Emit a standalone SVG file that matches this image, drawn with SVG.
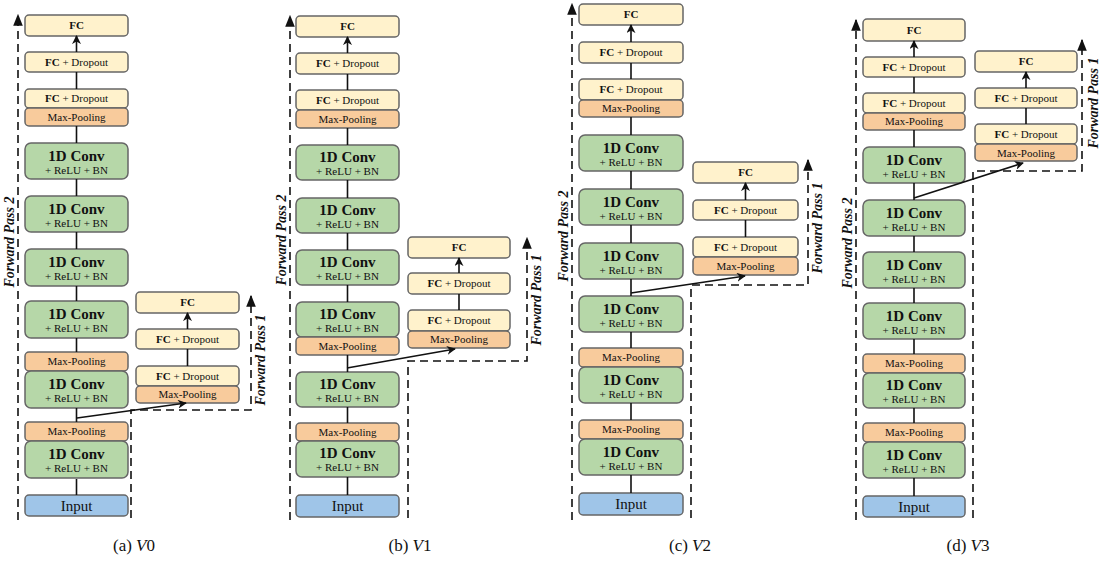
<svg xmlns="http://www.w3.org/2000/svg" width="1108" height="562" viewBox="0 0 1108 562">
<style>
rect{stroke:#666;stroke-width:1.5}
.fc{fill:#fff2cc}.mp{fill:#f8cb9c}.cv{fill:#b6d7a8}.in{fill:#9fc5e8}
text{font-family:"Liberation Serif",serif;fill:#111;text-anchor:middle}
.s{font-size:11px}.b{font-weight:bold}.t{font-size:15px;font-weight:bold}.i{font-size:15px}
.fp{font-size:14px;font-weight:bold;font-style:italic}
.cap{font-size:17px}
.ar{stroke:#111;stroke-width:1.6;fill:none;marker-end:url(#ah)}
.ds{stroke:#111;stroke-width:1.6;fill:none;stroke-dasharray:8 5;marker-end:url(#bh)}
</style>
<defs>
<marker id="ah" viewBox="0 0 10 10" refX="9" refY="5" markerWidth="9" markerHeight="9" markerUnits="userSpaceOnUse" orient="auto"><path d="M0,0 L10,5 L0,10 L3,5 z" fill="#111"/></marker>
<marker id="bh" viewBox="0 0 10 10" refX="9" refY="5" markerWidth="12" markerHeight="12" markerUnits="userSpaceOnUse" orient="auto"><path d="M0,1 L10,5 L0,9 z" fill="#111"/></marker>
</defs>

<!-- Panel a -->
<g id="a-fc"><rect class="fc" x="25" y="15" width="103" height="21" rx="4"/><text class="s b" x="76.5" y="29">FC</text></g>
<g id="a-fcd2"><rect class="fc" x="25" y="52" width="103" height="20" rx="4"/><text class="s" x="76.5" y="66"><tspan class="b">FC</tspan> + Dropout</text></g>
<g id="a-fcd1"><rect class="fc" x="25" y="89" width="103" height="19" rx="4"/><text class="s" x="76.5" y="102"><tspan class="b">FC</tspan> + Dropout</text></g>
<g id="a-mp3"><rect class="mp" x="25" y="108" width="103" height="18" rx="4"/><text class="s" x="76.5" y="121">Max-Pooling</text></g>
<g id="a-cv6"><rect class="cv" x="25" y="143" width="103" height="36" rx="6"/><text class="t" x="76.5" y="161">1D Conv</text><text class="s" x="76.5" y="174">+ ReLU + BN</text></g>
<g id="a-cv5"><rect class="cv" x="25" y="196" width="103" height="36" rx="6"/><text class="t" x="76.5" y="214">1D Conv</text><text class="s" x="76.5" y="227">+ ReLU + BN</text></g>
<g id="a-cv4"><rect class="cv" x="25" y="249" width="103" height="37" rx="6"/><text class="t" x="76.5" y="267">1D Conv</text><text class="s" x="76.5" y="280">+ ReLU + BN</text></g>
<g id="a-cv3"><rect class="cv" x="25" y="301" width="103" height="37" rx="6"/><text class="t" x="76.5" y="319">1D Conv</text><text class="s" x="76.5" y="332">+ ReLU + BN</text></g>
<g id="a-mp2"><rect class="mp" x="25" y="352" width="103" height="19" rx="4"/><text class="s" x="76.5" y="365">Max-Pooling</text></g>
<g id="a-cv2"><rect class="cv" x="25" y="371" width="103" height="37" rx="6"/><text class="t" x="76.5" y="389">1D Conv</text><text class="s" x="76.5" y="402">+ ReLU + BN</text></g>
<g id="a-mp1"><rect class="mp" x="25" y="422" width="103" height="19" rx="4"/><text class="s" x="76.5" y="435">Max-Pooling</text></g>
<g id="a-cv1"><rect class="cv" x="25" y="441" width="103" height="37" rx="6"/><text class="t" x="76.5" y="459">1D Conv</text><text class="s" x="76.5" y="472">+ ReLU + BN</text></g>
<g id="a-in"><rect class="in" x="25" y="495" width="103" height="21" rx="4"/><text class="i" x="76.5" y="511">Input</text></g>
<g id="a-sfc"><rect class="fc" x="136" y="292" width="103" height="21" rx="4"/><text class="s b" x="187.5" y="306">FC</text></g>
<g id="a-sfcd2"><rect class="fc" x="136" y="329" width="103" height="20" rx="4"/><text class="s" x="187.5" y="343"><tspan class="b">FC</tspan> + Dropout</text></g>
<g id="a-sfcd1"><rect class="fc" x="136" y="366" width="103" height="20" rx="4"/><text class="s" x="187.5" y="380"><tspan class="b">FC</tspan> + Dropout</text></g>
<g id="a-smp"><rect class="mp" x="136" y="386" width="103" height="17" rx="4"/><text class="s" x="187.5" y="398">Max-Pooling</text></g>

<!-- Panel b -->
<g id="b-fc"><rect class="fc" x="296" y="16" width="103" height="21" rx="4"/><text class="s b" x="347.5" y="30">FC</text></g>
<g id="b-fcd2"><rect class="fc" x="296" y="53" width="103" height="21" rx="4"/><text class="s" x="347.5" y="67"><tspan class="b">FC</tspan> + Dropout</text></g>
<g id="b-fcd1"><rect class="fc" x="296" y="90" width="103" height="20" rx="4"/><text class="s" x="347.5" y="104"><tspan class="b">FC</tspan> + Dropout</text></g>
<g id="b-mp3"><rect class="mp" x="296" y="110" width="103" height="18" rx="4"/><text class="s" x="347.5" y="123">Max-Pooling</text></g>
<g id="b-cv6"><rect class="cv" x="296" y="145" width="103" height="35" rx="6"/><text class="t" x="347.5" y="162">1D Conv</text><text class="s" x="347.5" y="175">+ ReLU + BN</text></g>
<g id="b-cv5"><rect class="cv" x="296" y="198" width="103" height="35" rx="6"/><text class="t" x="347.5" y="215">1D Conv</text><text class="s" x="347.5" y="228">+ ReLU + BN</text></g>
<g id="b-cv4"><rect class="cv" x="296" y="250" width="103" height="35" rx="6"/><text class="t" x="347.5" y="267">1D Conv</text><text class="s" x="347.5" y="280">+ ReLU + BN</text></g>
<g id="b-cv3"><rect class="cv" x="296" y="302" width="103" height="35" rx="6"/><text class="t" x="347.5" y="319">1D Conv</text><text class="s" x="347.5" y="332">+ ReLU + BN</text></g>
<g id="b-mp2"><rect class="mp" x="296" y="337" width="103" height="18" rx="4"/><text class="s" x="347.5" y="350">Max-Pooling</text></g>
<g id="b-cv2"><rect class="cv" x="296" y="372" width="103" height="35" rx="6"/><text class="t" x="347.5" y="389">1D Conv</text><text class="s" x="347.5" y="402">+ ReLU + BN</text></g>
<g id="b-mp1"><rect class="mp" x="296" y="423" width="103" height="18" rx="4"/><text class="s" x="347.5" y="436">Max-Pooling</text></g>
<g id="b-cv1"><rect class="cv" x="296" y="441" width="103" height="36" rx="6"/><text class="t" x="347.5" y="458">1D Conv</text><text class="s" x="347.5" y="471">+ ReLU + BN</text></g>
<g id="b-in"><rect class="in" x="296" y="495" width="103" height="22" rx="4"/><text class="i" x="347.5" y="511">Input</text></g>
<g id="b-sfc"><rect class="fc" x="408" y="237" width="102" height="21" rx="4"/><text class="s b" x="459" y="251">FC</text></g>
<g id="b-sfcd2"><rect class="fc" x="408" y="273" width="102" height="21" rx="4"/><text class="s" x="459" y="287"><tspan class="b">FC</tspan> + Dropout</text></g>
<g id="b-sfcd1"><rect class="fc" x="408" y="310" width="102" height="21" rx="4"/><text class="s" x="459" y="324"><tspan class="b">FC</tspan> + Dropout</text></g>
<g id="b-smp"><rect class="mp" x="408" y="331" width="102" height="17" rx="4"/><text class="s" x="459" y="343">Max-Pooling</text></g>

<!-- Panel c -->
<g id="c-fc"><rect class="fc" x="579" y="4" width="104" height="21" rx="4"/><text class="s b" x="631" y="18">FC</text></g>
<g id="c-fcd2"><rect class="fc" x="579" y="42" width="104" height="21" rx="4"/><text class="s" x="631" y="56"><tspan class="b">FC</tspan> + Dropout</text></g>
<g id="c-fcd1"><rect class="fc" x="579" y="79" width="104" height="21" rx="4"/><text class="s" x="631" y="93"><tspan class="b">FC</tspan> + Dropout</text></g>
<g id="c-mp3"><rect class="mp" x="579" y="100" width="104" height="17" rx="4"/><text class="s" x="631" y="112">Max-Pooling</text></g>
<g id="c-cv6"><rect class="cv" x="579" y="135" width="104" height="36" rx="6"/><text class="t" x="631" y="153">1D Conv</text><text class="s" x="631" y="166">+ ReLU + BN</text></g>
<g id="c-cv5"><rect class="cv" x="579" y="189" width="104" height="36" rx="6"/><text class="t" x="631" y="207">1D Conv</text><text class="s" x="631" y="220">+ ReLU + BN</text></g>
<g id="c-cv4"><rect class="cv" x="579" y="243" width="104" height="36" rx="6"/><text class="t" x="631" y="261">1D Conv</text><text class="s" x="631" y="274">+ ReLU + BN</text></g>
<g id="c-cv3"><rect class="cv" x="579" y="296" width="104" height="36" rx="6"/><text class="t" x="631" y="314">1D Conv</text><text class="s" x="631" y="327">+ ReLU + BN</text></g>
<g id="c-mp2"><rect class="mp" x="579" y="348" width="104" height="19" rx="4"/><text class="s" x="631" y="361">Max-Pooling</text></g>
<g id="c-cv2"><rect class="cv" x="579" y="367" width="104" height="36" rx="6"/><text class="t" x="631" y="385">1D Conv</text><text class="s" x="631" y="398">+ ReLU + BN</text></g>
<g id="c-mp1"><rect class="mp" x="579" y="420" width="104" height="19" rx="4"/><text class="s" x="631" y="433">Max-Pooling</text></g>
<g id="c-cv1"><rect class="cv" x="579" y="439" width="104" height="36" rx="6"/><text class="t" x="631" y="457">1D Conv</text><text class="s" x="631" y="470">+ ReLU + BN</text></g>
<g id="c-in"><rect class="in" x="579" y="493" width="104" height="22" rx="4"/><text class="i" x="631" y="509">Input</text></g>
<g id="c-sfc"><rect class="fc" x="693" y="162" width="105" height="21" rx="4"/><text class="s b" x="745.5" y="176">FC</text></g>
<g id="c-sfcd2"><rect class="fc" x="693" y="200" width="105" height="20" rx="4"/><text class="s" x="745.5" y="214"><tspan class="b">FC</tspan> + Dropout</text></g>
<g id="c-sfcd1"><rect class="fc" x="693" y="237" width="105" height="20" rx="4"/><text class="s" x="745.5" y="251"><tspan class="b">FC</tspan> + Dropout</text></g>
<g id="c-smp"><rect class="mp" x="693" y="257" width="105" height="18" rx="4"/><text class="s" x="745.5" y="270">Max-Pooling</text></g>

<!-- Panel d -->
<g id="d-fc"><rect class="fc" x="863" y="19" width="102" height="22" rx="4"/><text class="s b" x="914" y="34">FC</text></g>
<g id="d-fcd2"><rect class="fc" x="863" y="57" width="102" height="20" rx="4"/><text class="s" x="914" y="71"><tspan class="b">FC</tspan> + Dropout</text></g>
<g id="d-fcd1"><rect class="fc" x="863" y="93" width="102" height="20" rx="4"/><text class="s" x="914" y="107"><tspan class="b">FC</tspan> + Dropout</text></g>
<g id="d-mp3"><rect class="mp" x="863" y="113" width="102" height="17" rx="4"/><text class="s" x="914" y="125">Max-Pooling</text></g>
<g id="d-cv6"><rect class="cv" x="863" y="147" width="102" height="36" rx="6"/><text class="t" x="914" y="165">1D Conv</text><text class="s" x="914" y="178">+ ReLU + BN</text></g>
<g id="d-cv5"><rect class="cv" x="863" y="200" width="102" height="36" rx="6"/><text class="t" x="914" y="218">1D Conv</text><text class="s" x="914" y="231">+ ReLU + BN</text></g>
<g id="d-cv4"><rect class="cv" x="863" y="252" width="102" height="36" rx="6"/><text class="t" x="914" y="270">1D Conv</text><text class="s" x="914" y="283">+ ReLU + BN</text></g>
<g id="d-cv3"><rect class="cv" x="863" y="303" width="102" height="36" rx="6"/><text class="t" x="914" y="321">1D Conv</text><text class="s" x="914" y="334">+ ReLU + BN</text></g>
<g id="d-mp2"><rect class="mp" x="863" y="354" width="102" height="19" rx="4"/><text class="s" x="914" y="367">Max-Pooling</text></g>
<g id="d-cv2"><rect class="cv" x="863" y="373" width="102" height="35" rx="6"/><text class="t" x="914" y="390">1D Conv</text><text class="s" x="914" y="403">+ ReLU + BN</text></g>
<g id="d-mp1"><rect class="mp" x="863" y="423" width="102" height="19" rx="4"/><text class="s" x="914" y="436">Max-Pooling</text></g>
<g id="d-cv1"><rect class="cv" x="863" y="442" width="102" height="36" rx="6"/><text class="t" x="914" y="460">1D Conv</text><text class="s" x="914" y="473">+ ReLU + BN</text></g>
<g id="d-in"><rect class="in" x="863" y="496" width="102" height="21" rx="4"/><text class="i" x="914" y="512">Input</text></g>
<g id="d-sfc"><rect class="fc" x="975" y="51" width="102" height="21" rx="4"/><text class="s b" x="1026" y="65">FC</text></g>
<g id="d-sfcd2"><rect class="fc" x="975" y="88" width="102" height="20" rx="4"/><text class="s" x="1026" y="102"><tspan class="b">FC</tspan> + Dropout</text></g>
<g id="d-sfcd1"><rect class="fc" x="975" y="124" width="102" height="20" rx="4"/><text class="s" x="1026" y="138"><tspan class="b">FC</tspan> + Dropout</text></g>
<g id="d-smp"><rect class="mp" x="975" y="144" width="102" height="17" rx="4"/><text class="s" x="1026" y="157">Max-Pooling</text></g>

<g id="connectors">
<path class="ar" d="M76.5,495V479M76.5,422V408M76.5,352V338M76.5,301V286M76.5,249V232M76.5,196V179M76.5,143V126M76.5,89V72M76.5,52V36"/>
<path class="ar" d="M187.5,366V349M187.5,329V313"/>
<path class="ar" d="M77,418L186,403"/>
<path class="ds" d="M18,520V15"/>
<path class="ds" d="M131,518V410H251V296"/>

<path class="ar" d="M347.5,495V477M347.5,423V407M347.5,372V355M347.5,302V285M347.5,250V233M347.5,198V180M347.5,145V128M347.5,90V74M347.5,53V37"/>
<path class="ar" d="M459,310V294M459,273V258"/>
<path class="ar" d="M347,368L455,349"/>
<path class="ds" d="M290,520V16"/>
<path class="ds" d="M408,518V361H527V238"/>

<path class="ar" d="M631,493V475M631,420V403M631,348V332M631,296V279M631,243V225M631,189V171M631,135V117M631,79V63M631,42V25"/>
<path class="ar" d="M745.5,237V220M745.5,200V183"/>
<path class="ar" d="M631,293L745,276"/>
<path class="ds" d="M572,520V4"/>
<path class="ds" d="M691,518V285H808V160"/>

<path class="ar" d="M914,496V478M914,423V408M914,354V339M914,303V288M914,252V236M914,200V183M914,147V130M914,93V77M914,57V41"/>
<path class="ar" d="M1026,124V108M1026,88V72"/>
<path class="ar" d="M914,198L1023,163"/>
<path class="ds" d="M856,520V20"/>
<path class="ds" d="M973,518V171H1082V40"/>
</g>

<g id="labels">
<text class="fp" transform="translate(14,242) rotate(-90)">Forward Pass 2</text>
<text class="fp" transform="translate(265,360) rotate(-90)">Forward Pass 1</text>
<text class="fp" transform="translate(286,240) rotate(-90)">Forward Pass 2</text>
<text class="fp" transform="translate(541,300) rotate(-90)">Forward Pass 1</text>
<text class="fp" transform="translate(568,236) rotate(-90)">Forward Pass 2</text>
<text class="fp" transform="translate(822,228) rotate(-90)">Forward Pass 1</text>
<text class="fp" transform="translate(852,243) rotate(-90)">Forward Pass 2</text>
<text class="fp" transform="translate(1098,103) rotate(-90)">Forward Pass 1</text>
<text class="cap" x="134" y="551">(a) <tspan font-style="italic">V</tspan>0</text>
<text class="cap" x="410" y="551">(b) <tspan font-style="italic">V</tspan>1</text>
<text class="cap" x="690" y="551">(c) <tspan font-style="italic">V</tspan>2</text>
<text class="cap" x="968" y="551">(d) <tspan font-style="italic">V</tspan>3</text>
</g>
</svg>
